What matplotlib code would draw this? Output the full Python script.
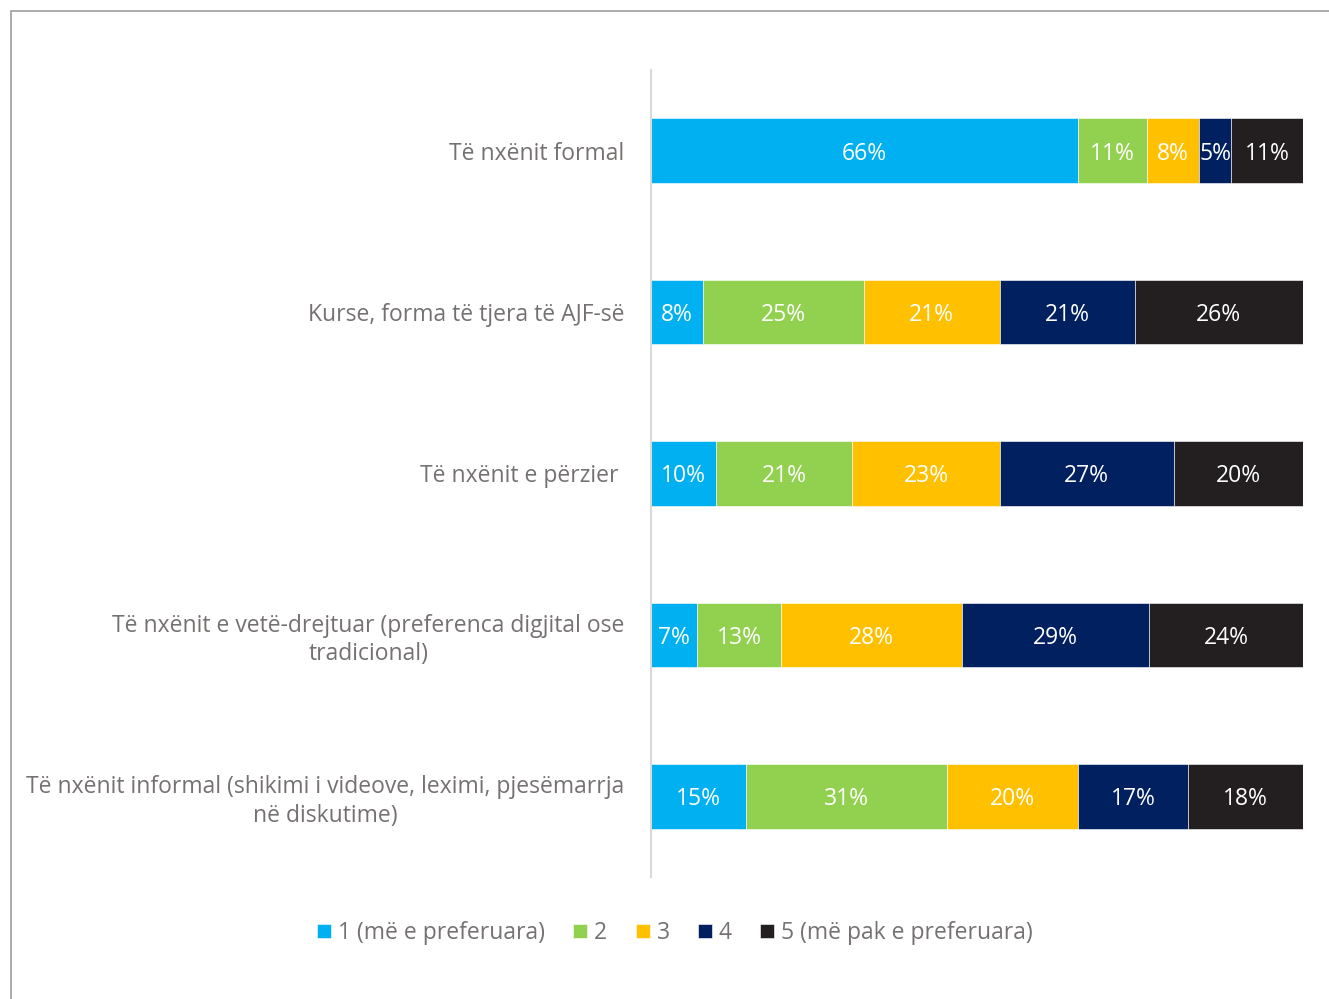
import numpy as np
import matplotlib.pyplot as plt
from matplotlib.patches import Rectangle

categories = [
    'Të nxënit formal',
    'Kurse, forma të tjera të AJF-së',
    'Të nxënit e përzier ',
    'Të nxënit e vetë-drejtuar (preferenca digjital ose\ntradicional)',
    'Të nxënit informal (shikimi i videove, leximi, pjesëmarrja\nnë diskutime)',
]
series_names = ['1 (më e preferuara)', '2', '3', '4', '5 (më pak e preferuara)']
colors = ['#00B0F0', '#92D050', '#FFC000', '#002060', '#231F20']

# shares per category (%), order: 1..5
r1 = [65.5, 10.6, 8.0, 4.9, 11.0]
r2 = [8.0, 24.6, 20.9, 20.7, 25.8]
r3 = [10.0, 20.9, 22.6, 26.7, 19.8]
r4 = [7.1, 12.8, 27.9, 28.7, 23.6]
r5 = [14.6, 30.8, 20.1, 16.9, 17.6]

data = np.array([r1, r2, r3, r4, r5])
shares = data / data.sum(axis=1, keepdims=True) * 100

text_gray = '#767171'
fs = 16.5
plt.rcParams['font.family'] = ['Open Sans', 'DejaVu Sans']

fig = plt.figure(figsize=(13.29, 9.99), dpi=100)
ax = fig.add_axes([651 / 1329, 1 - 877 / 999, (1303 - 651) / 1329, (877 - 70) / 999])

# outer frame (partly visible)
fig.patches.append(Rectangle((10.5 / 1329, -0.1), 2, 1.1 - 10.5 / 999,
                             transform=fig.transFigure, fill=False,
                             edgecolor='#A6A6A6', linewidth=1.3))

y = np.arange(len(categories))
left = np.zeros(len(categories))
for j, name in enumerate(series_names):
    w = shares[:, j]
    ax.barh(y, w, left=left, height=0.4, color=colors[j], edgecolor='white',
            linewidth=0.4, label=name)
    for i in range(len(categories)):
        ax.text(left[i] + w[i] / 2, y[i], f'{data[i, j]:.0f}%', ha='center',
                va='center_baseline', color='white', fontsize=fs)
    left += w

ax.set_xlim(0, 100)
ax.set_ylim(4.5, -0.5)
ax.set_yticks(y)
ax.set_yticklabels(categories, fontsize=fs, color=text_gray, ha='right', multialignment='center',
                   linespacing=1.25)
ax.tick_params(axis='y', length=0, pad=19)
ax.set_xticks([])
for s in ['top', 'right', 'bottom']:
    ax.spines[s].set_visible(False)
ax.spines['left'].set_color('#D9D9D9')
ax.spines['left'].set_linewidth(1.5)

fig.legend(loc='center', bbox_to_anchor=(675 / 1329, 1 - 933 / 999), ncol=5, frameon=False,
           fontsize=fs, labelcolor=text_gray, handlelength=0.6, handleheight=0.6,
           handletextpad=0.3, columnspacing=1.25)

fig.savefig('out.png', dpi=100)
